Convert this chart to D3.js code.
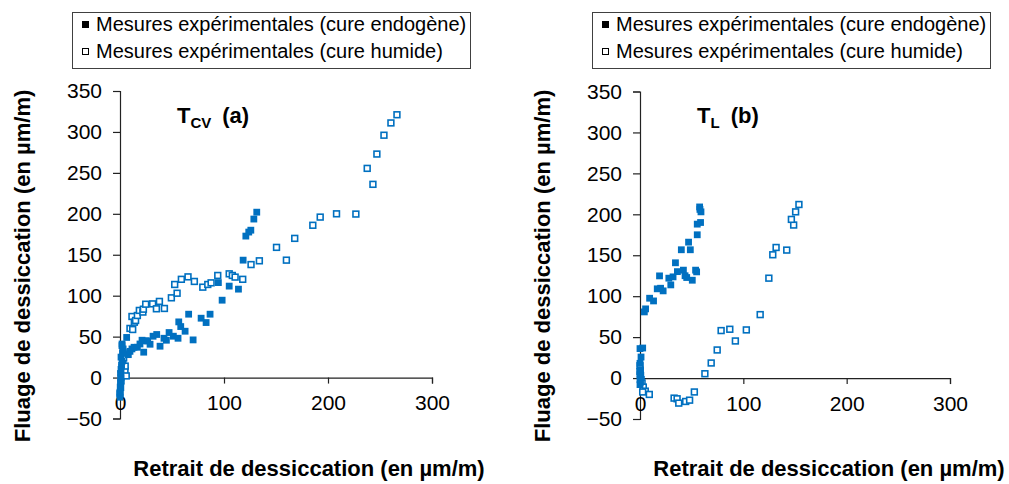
<!DOCTYPE html>
<html lang="fr">
<head>
<meta charset="utf-8">
<script src="https://cdn.jsdelivr.net/npm/d3@7"></script>
<style>
  html, body { margin: 0; padding: 0; background: #fff; }
  svg { display: block; font-family: Arial, "Liberation Sans", sans-serif; }
</style>
</head>
<body>
<svg id="chart" width="1009" height="484"></svg>
<script>
// Axis ticks shared by both panels
const xTicks = [0, 100, 200, 300];
const yTicks = [-50, 0, 50, 100, 150, 200, 250, 300, 350];

const legendLabels = [
  "Mesures expérimentales (cure endogène)",
  "Mesures expérimentales (cure humide)"
];
const xTitle = "Retrait de dessiccation (en µm/m)";
const yTitle = "Fluage de dessiccation (en µm/m)";

// Panel (a) T_CV : [retrait, fluage]
const tcvEndogene = [
  [0, -24], [0, -18], [0.5, -12], [0.5, -6], [1, 0], [0.5, 5], [1, 10], [1.5, 15],
  [2, 20], [1, 25], [2.5, 30], [3, 35], [2, 41], [1.9, 39], [6.4, 49], [8, 28],
  [9.6, 32], [11.5, 35], [13.5, 37], [16.7, 37], [19.2, 41], [21.2, 45.6], [22.8, 31],
  [24.7, 44.8], [26.6, 44.8], [28.9, 40.7], [31.8, 50.5], [35.3, 52.6], [38.5, 38.3],
  [42.3, 48], [44.6, 45.6], [47.2, 55], [51.3, 50.5], [55.8, 48], [56.5, 68],
  [58.4, 62.3], [62.6, 56.6], [66, 77.4], [70.3, 46], [78, 72.5], [82.8, 67.2],
  [86.6, 77.4], [94.6, 116], [98.2, 94.5], [105, 111.7], [113.9, 108], [118.4, 143.4],
  [121, 172.8], [123.8, 177.7], [125.8, 180], [128.7, 193.6], [131.5, 202]
];
const tcvHumide = [
  [0, -20], [0.5, -12], [1, -4], [1.5, 4], [2, 12], [2.6, 17], [3.5, 24], [3, 30],
  [4.8, 8.5], [6, 2], [5, 14], [9.6, 60], [12.2, 58.7], [11.5, 74.6], [13.8, 67.6],
  [15, 69.7], [16.7, 75.8], [18.6, 82], [22, 80], [22.5, 83.5], [24.7, 89.6],
  [31.4, 90], [35, 84], [37.9, 93], [42.7, 84.4], [49.4, 97.4], [54.9, 103],
  [52.6, 113.7], [59, 120], [65.4, 123], [71.5, 117.4], [79.6, 110.4], [84.4, 113.7],
  [87.6, 115.7], [94, 124.7], [105, 126.7], [108, 124.7], [110.7, 122.7], [118, 120],
  [126, 138], [134, 142.6], [150.5, 159], [160, 143.4], [168, 170], [185.4, 186],
  [192.5, 196], [208.2, 200], [226.8, 199.7], [237.7, 255.5], [243.2, 236],
  [247, 273], [253.8, 296], [260.5, 311], [266.3, 321]
];

// Panel (b) T_L : [retrait, fluage]
const tlEndogene = [
  [0, -8], [0.5, -5], [0, -2], [0.5, 1], [0, 5], [0.5, 10], [0, 18], [1, 25.7],
  [0, 36], [2.6, 36.7], [4.2, 80.8], [5.4, 84.5], [9.3, 97.5], [13.1, 94.2],
  [16.7, 109], [18.9, 124.8], [19.9, 109.7], [22.4, 106.5], [27.9, 122], [29.8, 113.8],
  [32, 123.6], [34.3, 140.8], [36.2, 130], [40, 156.7], [42, 131.8], [43.6, 125],
  [45.2, 122.8], [47, 166], [48.7, 156.7], [50.6, 119.5], [53.8, 131.8], [54.8, 129.7],
  [55.4, 175], [55.4, 188], [58.6, 190], [59, 203], [58, 206], [57.7, 209]
];
const tlHumide = [
  [0, 15], [0, 8], [0.5, 3], [1, -2], [2, -6], [3.2, -11], [5.1, -16], [2.6, -17],
  [9, -20], [33, -24.5], [35.9, -25.3], [37.5, -30.6], [44.2, -28.6], [48, -27],
  [52.6, -17], [62.8, 5.3], [68.9, 18.4], [74.7, 34.3], [78.5, 58], [86.9, 59.6],
  [92.3, 45.3], [102.9, 58.8], [116.3, 77.5], [124.7, 122], [128.5, 150.6],
  [131.7, 159.5], [142, 156.3], [148.7, 186.9], [146.5, 193.8], [150.6, 203], [153.8, 212]
];

const BLUE = "#0070C0";
const FONT = "Arial, 'Liberation Sans', sans-serif";
const svg = d3.select("#chart");

const panels = [
  { left: 120, right: 432, top: 91, bottom: 418.5, offset: 0,
    endo: tcvEndogene, hum: tcvHumide, sub: "CV", tag: "(a)" },
  { left: 640, right: 950, top: 91.5, bottom: 419, offset: 520,
    endo: tlEndogene, hum: tlHumide, sub: "L", tag: "(b)" }
];

panels.forEach(p => {
  const g = svg.append("g");
  const x = d3.scaleLinear().domain([0, 300]).range([p.left, p.right]);
  const y = d3.scaleLinear().domain([-50, 350]).range([p.bottom, p.top]);

  // Vertical axis
  const yAxis = g.append("g")
    .attr("transform", `translate(${p.left},0)`)
    .call(d3.axisLeft(y).tickValues(yTicks).tickSize(7).tickPadding(11).tickFormat(d3.format("d")));
  yAxis.select(".domain").attr("stroke", "#222").attr("stroke-width", 1.2);
  yAxis.selectAll(".tick line").attr("stroke", "#222").attr("stroke-width", 1.2);
  yAxis.selectAll(".tick text").attr("fill", "#000").style("font-size", "21px")
    .style("font-family", FONT);

  // Horizontal axis through y = 0
  const xAxis = g.append("g")
    .attr("transform", `translate(0,${y(0)})`)
    .call(d3.axisBottom(x).tickValues(xTicks).tickSize(6).tickSizeOuter(6).tickPadding(12).tickFormat(d3.format("d")));
  xAxis.select(".domain").attr("stroke", "#222").attr("stroke-width", 1.2);
  xAxis.selectAll(".tick line").attr("stroke", "#222").attr("stroke-width", 1.2);
  xAxis.selectAll(".tick text").attr("fill", "#000").style("font-size", "21px")
    .style("font-family", FONT);

  // Cure humide : open squares
  g.append("g").selectAll("rect").data(p.hum).join("rect")
    .attr("x", d => x(d[0]) - 2.9).attr("y", d => y(d[1]) - 2.9)
    .attr("width", 5.8).attr("height", 5.8)
    .attr("fill", "#fff").attr("stroke", BLUE).attr("stroke-width", 1.6);

  // Cure endogène : filled squares
  g.append("g").selectAll("rect").data(p.endo).join("rect")
    .attr("x", d => x(d[0]) - 3.4).attr("y", d => y(d[1]) - 3.4)
    .attr("width", 6.8).attr("height", 6.8)
    .attr("fill", BLUE);

  // Panel title
  const t = g.append("text")
    .attr("x", p.offset + 177).attr("y", 123)
    .attr("font-weight", "bold").attr("font-size", 22).attr("fill", "#000");
  t.append("tspan").text("T");
  t.append("tspan").attr("font-size", 15).attr("dy", 5).text(p.sub);
  t.append("tspan").attr("dy", -5).attr("dx", 11).text(p.tag);

  // Axis titles
  g.append("text")
    .attr("transform", `translate(${p.offset + 30},${266}) rotate(-90)`)
    .attr("text-anchor", "middle").attr("font-weight", "bold").attr("font-size", 22)
    .attr("fill", "#000").text(yTitle);
  g.append("text")
    .attr("x", p.offset + 309).attr("y", 476)
    .attr("text-anchor", "middle").attr("font-weight", "bold").attr("font-size", 22)
    .attr("fill", "#000").text(xTitle);

  // Legend
  const lg = g.append("g").attr("transform", `translate(${p.offset + 72},12)`);
  lg.append("rect").attr("x", 0.5).attr("y", 0.5).attr("width", 398).attr("height", 56)
    .attr("fill", "#fff").attr("stroke", "#404040").attr("stroke-width", 1);
  lg.append("rect").attr("x", 10).attr("y", 9).attr("width", 7).attr("height", 7).attr("fill", "#000");
  lg.append("rect").attr("x", 10.5).attr("y", 36.5).attr("width", 6).attr("height", 6)
    .attr("fill", "#fff").attr("stroke", "#000").attr("stroke-width", 1);
  lg.selectAll("text.lab").data(legendLabels).join("text").attr("class", "lab")
    .attr("x", 24).attr("y", (d, i) => 19 + i * 27)
    .attr("font-size", 20).attr("fill", "#000").text(d => d);
});
</script>
</body>
</html>
